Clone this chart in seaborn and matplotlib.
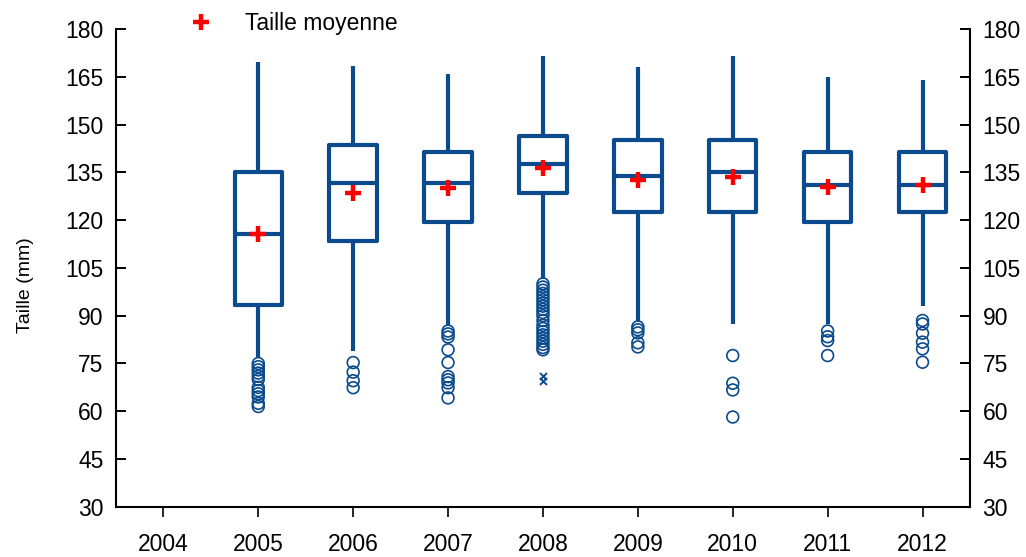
import matplotlib
matplotlib.use("Agg")
import matplotlib.pyplot as plt
from matplotlib.lines import Line2D
import seaborn as sns
import pandas as pd

# ---- data ----
years = ["2004", "2005", "2006", "2007", "2008", "2009", "2010", "2011", "2012"]
box_years = ["2005", "2006", "2007", "2008", "2009", "2010", "2011", "2012"]
whisker_low = [77.0, 79.0, 87.0, 101.5, 88.0, 87.5, 87.5, 93.0]
q1 = [93.5, 113.5, 119.5, 128.5, 122.5, 122.5, 119.5, 122.5]
median = [115.5, 131.5, 131.5, 137.5, 134.0, 135.0, 131.0, 131.0]
q3 = [135.0, 143.5, 141.5, 146.5, 145.0, 145.0, 141.5, 141.5]
whisker_high = [169.5, 168.5, 166.0, 171.5, 168.0, 171.5, 165.0, 164.0]
means = [115.5, 128.5, 130.0, 136.5, 132.5, 133.5, 130.5, 131.0]

outliers = {
    "2005": [75, 74, 73, 72, 71, 70, 67.5, 66.5, 65.5, 64.5, 62.5, 61.5],
    "2006": [75.3, 72.3, 69.6, 67.4],
    "2007": [85.2, 84.3, 83.3, 79.3, 75.3, 70.9, 69.9, 68.9, 67.4, 64.2],
    "2008": [100, 99, 98, 97, 96, 95, 94, 93, 92, 91, 90, 88.5, 87, 86, 85,
             84, 83, 82, 81, 80, 79.3],
    "2009": [86.5, 85.6, 84.6, 81.5, 80.2],
    "2010": [77.5, 68.8, 66.7, 58.2],
    "2011": [85.2, 83.4, 82.2, 77.5],
    "2012": [88.5, 87.4, 84.5, 81.7, 79.6, 75.4],
}
far_outliers = {"2008": [71.0, 69.6]}

yticks = list(range(30, 181, 15))

BLUE = "#0b4a8c"
RED = "#ff0000"

# ---- tables ----
summary_rows = []
for i, y in enumerate(box_years):
    for v in (whisker_low[i], q1[i], median[i], q3[i], whisker_high[i]):
        summary_rows.append({"annee": y, "taille": v})
df_box = pd.DataFrame(summary_rows)
df_out = pd.DataFrame([{"annee": y, "taille": v} for y, vs in outliers.items() for v in vs])
df_far = pd.DataFrame([{"annee": y, "taille": v} for y, vs in far_outliers.items() for v in vs])
df_mean = pd.DataFrame({"annee": box_years, "taille": means})

# ---- figure ----
sns.set_theme(style="ticks")
plt.rcParams["font.family"] = ["Liberation Sans", "DejaVu Sans"]

fig = plt.figure(figsize=(10.26, 5.57), dpi=100)
ax = fig.add_axes([0.113, 0.090, 0.8324, 0.858])

sns.boxplot(data=df_box, x="annee", y="taille", order=years, whis=(0, 100),
            width=0.5, fill=False, color=BLUE, linewidth=3.0, showcaps=False,
            showfliers=False, ax=ax,
            boxprops=dict(color=BLUE), whiskerprops=dict(color=BLUE),
            medianprops=dict(color=BLUE))

sns.stripplot(data=df_out, x="annee", y="taille", order=years, jitter=False,
              marker="o", size=8.5, facecolors="none", edgecolor=BLUE,
              linewidth=1.2, ax=ax, zorder=3)
sns.stripplot(data=df_far, x="annee", y="taille", order=years, jitter=False,
              marker="x", size=5, color=BLUE, linewidth=1.4, ax=ax, zorder=3)
sns.stripplot(data=df_mean, x="annee", y="taille", order=years, jitter=False,
              marker="+", size=12, color=RED, linewidth=3.2, ax=ax, zorder=5)

ax.set_xlim(-0.5, len(years) - 0.5)
ax.set_ylim(30, 180)
ax.set_yticks(yticks)
ax.set_xticks(range(len(years)))
ax.set_xticklabels(years)
ax.set_xlabel("")
ax.set_ylabel("Taille (mm)", fontsize=14, color="black")
ax.yaxis.set_label_coords(-0.096, 0.465)

for s in ("left", "right", "bottom"):
    ax.spines[s].set_visible(True)
    ax.spines[s].set_linewidth(1.5)
    ax.spines[s].set_color("black")
ax.spines["top"].set_visible(False)

ax.tick_params(axis="y", direction="in", length=7, width=1.4, labelsize=16.5,
               left=True, right=True, labelleft=True, labelright=True, pad=9,
               colors="black")
ax.tick_params(axis="x", direction="out", length=7, width=1.2, labelsize=16.5,
               pad=12, colors="black")
ax.grid(False)

handle = Line2D([], [], linestyle="none", marker="+", color=RED,
                markersize=12, markeredgewidth=3.2)
fig.legend([handle], ["Taille moyenne"], loc="center left",
           bbox_to_anchor=(0.174, 0.958), frameon=False, fontsize=16.5,
           handletextpad=0.9, borderaxespad=0, borderpad=0,
           labelcolor="black")

fig.savefig("out.png", dpi=100)
